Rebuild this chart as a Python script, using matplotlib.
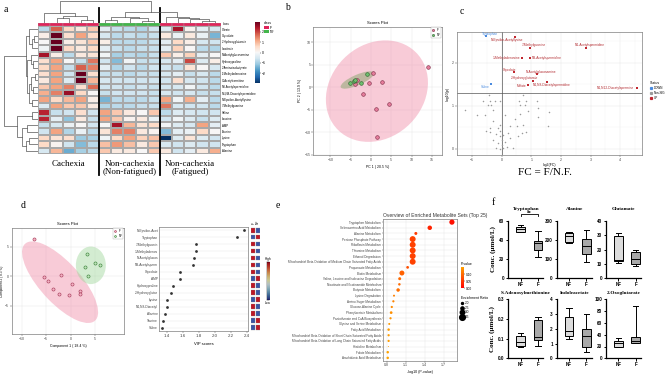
import numpy as np
import matplotlib
matplotlib.use("Agg")
import matplotlib.pyplot as plt
from matplotlib.patches import Ellipse, Patch
from matplotlib.colors import LinearSegmentedColormap, Normalize
from matplotlib.lines import Line2D

plt.rcParams['font.family'] = ['Liberation Sans', 'DejaVu Sans']
SERIF = ['Liberation Serif', 'DejaVu Serif']

# ---------------- a: heatmap ----------------
heat_rows = ["Citrate", "Glycolate", "2-Hydroxyglutarate", "Isocitrate",
             "N-Acetylglucosamine", "Hydroxyproline", "2-Aminoisobutyrate",
             "1-Methyladenosine", "O-Acetylcarnitine", "N8-Acetylspermidine",
             "N1,N8-Diacetylspermidine", "N-Epsilon-Acetyllysine", "7-Methylguanine",
             "Valine", "Leucine", "AMP", "Taurine", "Lysine", "Tryptophan", "Alanine"]
heat_vals = np.array([
    [-0.8, 1.8, 0.6, 0.3, 0.8,   -0.3, -0.7, -0.8, -0.9, -0.6,   -0.4, 2.5, 0.1, -0.3, -0.5],
    [0.2, 3.0, 0.5, 1.2, 0.6,    -0.5, -0.8, -0.7, -0.8, -0.7,   0.3, -0.2, 0.3, -0.2, -1.4],
    [0.0, 3.0, 0.2, 0.4, 0.8,    0.2, -0.8, -0.8, -0.8, -0.7,    -0.3, 0.6, 0.2, -0.5, -0.6],
    [-0.1, 3.0, 0.6, 0.3, 0.6,   -0.3, -0.7, -0.8, -0.7, -0.7,   -0.3, 0.7, 0.0, -0.8, -0.9],
    [2.5, 0.2, -0.8, 0.3, 0.4,   -0.1, -1.0, -0.8, -0.9, -0.7,   0.8, 0.2, 0.7, -0.3, 0.0],
    [0.5, 1.2, 0.0, -0.7, 1.6,   -0.6, -1.3, -0.1, -0.7, -0.7,   -0.5, -0.3, 2.0, -0.4, 0.2],
    [0.6, 1.2, -0.7, 1.8, 1.5,   -0.3, -0.9, -0.6, -0.8, -0.6,   -0.6, -0.7, 0.4, 0.0, -0.5],
    [0.5, 1.2, -0.6, 3.0, 0.5,   -0.7, -0.7, -0.8, -0.7, -0.7,   -0.5, -0.3, -0.7, -0.5, -0.8],
    [0.3, 1.2, -0.4, 3.0, 1.0,   -0.5, -0.6, -0.6, -0.6, -0.6,   -0.6, 0.5, -0.5, -0.6, -0.8],
    [0.8, 1.2, 1.5, 0.5, 1.7,    -0.6, -0.6, -0.7, -0.6, -0.7,   -0.6, -0.5, -0.1, -0.6, -0.8],
    [1.1, 1.5, 2.6, 0.6, 0.0,    -0.7, -0.6, -0.6, -0.6, -0.7,   -0.5, -0.6, -0.5, -0.7, -0.7],
    [1.2, 0.6, 1.0, 1.2, 0.2,    -1.4, -0.8, -0.8, -0.8, -0.7,   1.2, -0.1, 1.1, -0.3, -0.8],
    [-0.4, 1.2, 0.8, 0.8, 0.3,   -0.9, -0.8, -0.8, -0.7, -0.7,   1.6, -0.5, -0.6, -0.6, -0.8],
    [2.3, -0.7, -0.6, 0.5, -0.6, 1.2, 0.8, 0.3, 0.0, 0.8,        -0.8, -0.4, -0.5, -0.6, -0.6],
    [2.3, -0.3, -1.2, 0.3, -0.7, 1.2, 0.8, 0.1, 0.3, -0.2,       -0.6, -0.1, -0.4, -0.7, -0.4],
    [-0.7, -0.5, -0.2, 0.0, -0.6, 0.0, 2.5, 1.0, 0.4, 0.6,       -0.1, -0.4, -0.5, 1.2, -0.3],
    [-0.6, 1.2, -0.9, -0.2, -0.8, 0.4, 1.5, 1.5, 0.3, 0.1,       -1.3, -0.3, -0.2, 0.6, 0.0],
    [0.6, 0.4, 0.5, -1.1, -1.0,  -0.1, 0.6, 1.2, 0.7, 0.9,       -3.0, -0.4, 0.4, -0.4, -0.6],
    [0.6, 0.1, -0.6, -1.3, -0.8, 0.9, 1.3, 0.9, 0.3, 0.8,        -0.5, -0.6, -0.4, -0.6, -0.6],
    [-0.5, 1.0, -1.5, -1.0, -0.8, 0.8, 0.3, 0.3, 0.0, 0.8,       0.3, -0.6, -0.3, 0.3, 1.1],
])
heat_class = ["F"] * 5 + ["NF"] * 5 + ["F"] * 5
group_names = ["Cachexia", "Non-cachexia\n(Non-fatigued)", "Non-cachexia\n(Fatigued)"]
group_sizes = [5, 5, 5]
# linkage-style merges: (left, right, height)
col_merges = [(3, 4, 0.12), (1, 2, 0.2), (16, 15, 0.3), (0, 17, 0.45),
              (5, 6, 0.12), (8, 9, 0.1), (7, 20, 0.2), (19, 21, 0.28),
              (13, 14, 0.1), (12, 23, 0.18), (11, 24, 0.22), (10, 25, 0.28),
              (22, 26, 0.48), (18, 27, 1.0)]
row_merges = [(1, 2, 0.1), (3, 20, 0.15), (0, 21, 0.25), (5, 6, 0.12), (4, 23, 0.2),
              (7, 8, 0.08), (9, 10, 0.12), (25, 26, 0.18), (11, 12, 0.15), (27, 28, 0.24),
              (24, 29, 0.3), (22, 30, 0.34), (13, 14, 0.15), (15, 16, 0.3), (17, 18, 0.25),
              (34, 19, 0.35), (33, 35, 0.45), (32, 36, 0.62), (31, 37, 1.0)]

# ---------------- b: PCA scores ----------------
pca_f_x = [0.6, 2.8, -0.6, -3.5, -3.9, -1.9, 1.2, 4.4, 1.6, 14.0]
pca_f_y = [3.2, 1.2, 1.0, 1.6, 0.7, -1.6, -4.8, -3.8, -11.1, 4.5]
pca_nf_x = [-0.9, -5.2, -4.2, -4.0, -2.5]
pca_nf_y = [2.9, 1.0, 1.3, 1.6, 1.0]

# ---------------- c: volcano ----------------
up_names = ["N-Epsilon-Acetyllysine", "7-Methylguanine", "N1-Acetylspermidine",
            "1-Methyladenosine", "N8-Acetylspermidine", "Glycolate", "N-Acetylglucosamine",
            "2-Hydroxyglutarate", "N1,N8-Diacetylspermidine", "Malate", "N1,N12-Diacetylspermine"]
up_x = [0.47, 0.95, 2.83, 0.69, 0.95, 0.41, 1.19, 1.06, 1.54, 0.88, 4.56]
up_y = [2.59, 2.34, 2.34, 2.11, 2.11, 1.78, 1.74, 1.57, 1.55, 1.49, 1.41]
down_names = ["Tryptophan", "Valine"]
down_x = [-0.54, -0.35]
down_y = [2.61, 1.50]
ns_x = [-0.42, -0.62, -0.40, -0.23, -0.06, 0.73, 0.59, 0.82, 1.18, -0.45, -0.34, 0.62, 0.79,
        -1.24, -0.28, 1.24, 0.90, 1.60, -0.84, -0.56, 0.11, 0.62, -0.28, 0.45, 1.24, -0.06,
        0.73, 1.57, -0.40, -0.11, 0.28, 0.51, -0.51, -0.40, -0.06, 0.22, 0.68, 0.84, -0.17,
        0.05, 0.28, 0.56, -0.06, 0.0, 0.11, -0.28, -0.11, 0.0, 0.05, 0.17, 0.39, -0.06, -0.17]
ns_y = [1.26, 1.12, 1.12, 1.12, 1.12, 1.26, 1.12, 1.12, 1.12, 1.01, 1.01, 1.01, 1.01,
        0.89, 0.89, 0.95, 0.87, 0.85, 0.79, 0.79, 0.79, 0.81, 0.65, 0.70, 0.73, 0.56,
        0.56, 0.54, 0.48, 0.48, 0.52, 0.52, 0.42, 0.39, 0.42, 0.36, 0.36, 0.39, 0.34,
        0.33, 0.26, 0.29, 0.29, 0.21, 0.17, 0.21, 0.13, 0.09, 0.02, 0.05, 0.03, 0.0, 0.03]

# ---------------- d: PLS-DA + VIP ----------------
pls_f_x = [-7.49, -5.38, -4.56, -3.54, -2.04, -2.32, -0.28, 0.33, 1.97, 1.97]
pls_f_y = [6.22, -0.22, -0.85, -2.20, 0.11, -3.11, -3.28, -1.41, -2.49, -3.05]
pls_nf_x = [3.26, 4.96, 5.91, 2.98, 3.59]
pls_nf_y = [3.67, 2.15, 1.81, 1.47, 0.06]
vip_names = ["N-Epsilon-Acet", "Tryptophan", "7-Methylguanin", "1-Methyladenos",
             "N-Acetylglucos", "N8-Acetylsperm", "Glycolate", "AMP", "Hydroxyproline",
             "2-Hydroxyglutar", "Lysine", "N1,N8-Diacetyl", "Alanine", "Taurine", "Valine"]
vip_scores = [2.37, 2.28, 1.77, 1.76, 1.74, 1.73, 1.56, 1.56, 1.47, 1.45, 1.40, 1.40, 1.38, 1.35, 1.34]
vip_f_high = [1, 0, 1, 1, 1, 1, 1, 0, 1, 1, 0, 1, 1, 0, 0]

# ---------------- e: enrichment ----------------
set_names = ["Tryptophan Metabolism", "Selenoamino Acid Metabolism", "Alanine Metabolism",
             "Pentose Phosphate Pathway", "Riboflavin Metabolism", "Thiamine Metabolism",
             "Ethanol Degradation",
             "Mitochondrial Beta-Oxidation of Medium Chain Saturated Fatty Acids",
             "Propanoate Metabolism", "Biotin Metabolism",
             "Valine, Leucine and Isoleucine Degradation",
             "Nicotinate and Nicotinamide Metabolism", "Butyrate Metabolism",
             "Lysine Degradation", "Amino Sugar Metabolism", "Glucose-Alanine Cycle",
             "Phenylacetate Metabolism", "Pantothenate and CoA Biosynthesis",
             "Glycine and Serine Metabolism", "Fatty Acid Metabolism",
             "Mitochondrial Beta-Oxidation of Short Chain Saturated Fatty Acids",
             "Mitochondrial Beta-Oxidation of Long Chain Saturated Fatty Acids",
             "Histidine Metabolism", "Folate Metabolism", "Arachidonic Acid Metabolism"]
set_logp = [1.83, 1.48, 1.26, 1.21, 1.21, 1.21, 1.21, 1.21, 1.13, 1.04, 1.005, 1.0, 0.98,
            0.915, 0.905, 0.88, 0.87, 0.86, 0.84, 0.83, 0.83, 0.83, 0.826, 0.816, 0.816]
set_ratio = [3.3, 3.0, 2.4, 3.6, 3.6, 3.6, 3.6, 3.6, 2.3, 3.2, 2.4, 2.2, 2.6, 2.0, 2.1,
             2.1, 2.3, 2.1, 2.0, 2.2, 2.1, 2.1, 1.6, 2.2, 2.2]

# ---------------- f: box plots ----------------
f_names = ["Tryptophan", "Alanine", "Glutamate", "S-Adenosylmethionine", "Indoleacetate", "2-Oxoglutarate"]
# min, q1, median, q3, max
f_nf = [[47.9, 48.6, 51.0, 53.1, 56.0], [185.5, 190.7, 220.0, 234.0, 242.8],
        [10.9, 12.3, 12.7, 29.4, 31.2], [0.059, 0.064, 0.085, 0.114, 0.127],
        [1.29, 1.54, 1.83, 2.82, 3.39], [18.6, 19.8, 25.4, 29.9, 33.9]]
f_f = [[22.6, 29.5, 37.2, 38.9, 49.3], [83.0, 126.6, 168.0, 203.0, 251.0],
       [8.6, 9.9, 13.2, 18.0, 19.7], [0.063, 0.093, 0.110, 0.195, 0.208],
       [0.41, 0.79, 1.54, 1.97, 2.98], [25.4, 26.6, 29.9, 36.7, 88.7]]
f_ymax = [60, 300, 40, 0.3, 4, 100]
f_ystep = [20, 100, 10, 0.1, 1, 20]
f_groups = ["NF", "F"]

W, H = 669, 374
fig = plt.figure(figsize=(W / 100, H / 100), dpi=100)


def box(x0, y0, x1, y1):
    return fig.add_axes([x0 / W, 1 - y1 / H, (x1 - x0) / W, (y1 - y0) / H])


def letter(x, y, s):
    fig.text(x / W, 1 - y / H, s, fontsize=7, family=SERIF, va='center', ha='center')


def dendro(ax, merges, n, side):
    pos = {i: i + 0.5 for i in range(n)}
    hgt = {i: 0.0 for i in range(n)}
    for k, (a, b, h) in enumerate(merges):
        xs = [pos[a], pos[a], pos[b], pos[b]]
        ys = [hgt[a], h, h, hgt[b]]
        if side == "top":
            ax.plot(xs, ys, color='#555555', lw=0.5)
        else:
            ax.plot(ys, xs, color='#555555', lw=0.5)
        pos[n + k] = (pos[a] + pos[b]) / 2
        hgt[n + k] = h
    ax.axis('off')


def conf_ellipse(ax, x, y, color, alpha):
    x = np.asarray(x)
    y = np.asarray(y)
    vals, vecs = np.linalg.eigh(np.cov(x, y))
    order = vals.argsort()[::-1]
    vals, vecs = vals[order], vecs[:, order]
    ang = np.degrees(np.arctan2(vecs[1, 0], vecs[0, 0]))
    w, h = 2 * np.sqrt(vals * 5.991)
    ax.add_patch(Ellipse((x.mean(), y.mean()), w, h, angle=ang, fc=color, ec='none',
                         alpha=alpha, zorder=1))


def light_axes(ax, grid=True):
    for s in ax.spines.values():
        s.set_color('#7f7f7f')
        s.set_linewidth(0.5)
    ax.tick_params(labelsize=2.5, length=1.2, width=0.3, pad=0.8, colors='#444444')
    if grid:
        ax.grid(True, color='#e3e3e3', lw=0.3)
        ax.set_axisbelow(True)


# ---------------- panel a ----------------
n_rows, n_cols = heat_vals.shape
ax = box(38.3, 26, 220.7, 154)
mesh = ax.pcolormesh(heat_vals, cmap='RdBu_r', vmin=-3, vmax=3, edgecolors='#a8a8a8', linewidth=0.25)
ax.set_xlim(0, n_cols)
ax.set_ylim(n_rows, 0)
ax.set_xticks([])
ax.yaxis.tick_right()
ax.set_yticks(np.arange(n_rows) + 0.5, heat_rows, fontsize=2.1)
ax.tick_params(axis='y', length=0, pad=1)
for s in ax.spines.values():
    s.set_visible(False)
edges = np.cumsum(group_sizes)
for e in edges[:-1]:
    ax.axvline(e, ymin=-0.164, ymax=1.138, color='black', lw=1.3, clip_on=False)
starts = edges - np.array(group_sizes)
for name, s0, e in zip(group_names, starts, edges):
    ax.text((s0 + e) / 2, -0.05, name, transform=ax.get_xaxis_transform(), ha='center',
            va='top', fontsize=6.5, family=SERIF, linespacing=1.0)

class_colors = {"F": "#E0245A", "NF": "#42B64A"}
axc = box(38.3, 22.7, 220.7, 26)
axc.bar(np.arange(n_cols) + 0.5, 1, width=1, color=[class_colors[c] for c in heat_class],
        edgecolor='#a8a8a8', linewidth=0.25)
axc.set_xlim(0, n_cols)
axc.set_ylim(0, 1)
axc.axis('off')
axc.text(1.01, 0.5, "class", transform=axc.transAxes, fontsize=2.1, va='center')

axd = box(38.3, 0.5, 220.7, 22.7)
dendro(axd, col_merges, n_cols, "top")
axd.set_xlim(0, n_cols)
axd.set_ylim(0, 1.02)

axr = box(3, 26, 37.5, 154)
dendro(axr, row_merges, n_rows, "left")
axr.set_ylim(n_rows, 0)
axr.set_xlim(1.02, 0)

cax = box(255, 21.7, 260, 83.3)
cb = fig.colorbar(mesh, cax=cax, ticks=[-2, -1, 0, 1, 2])
cb.ax.tick_params(labelsize=2.5, length=1, width=0.3, pad=0.5)
cb.outline.set_visible(False)
fig.legend([Patch(fc=class_colors[k]) for k in ["F", "NF"]], ["F", "NF"], title="class",
           loc='upper left', bbox_to_anchor=(264 / W, 1 - 21 / H), fontsize=2.5,
           title_fontsize=2.5, frameon=False, handlelength=1.4, handleheight=1.0,
           borderaxespad=0, borderpad=0, labelspacing=0.15, alignment='left', handletextpad=0.4)
letter(6, 10, "a")

# ---------------- panel b ----------------
ax = box(313.3, 26.7, 442, 155)
conf_ellipse(ax, pca_f_x, pca_f_y, '#F08CA8', 0.45)
conf_ellipse(ax, pca_nf_x, pca_nf_y, '#8FA874', 0.55)
ax.scatter(pca_f_x, pca_f_y, s=7, c='#E57C9A', edgecolors='#7a2a45', lw=0.4, zorder=3, label='F')
ax.scatter(pca_nf_x, pca_nf_y, s=7, c='#6DBE6D', edgecolors='#2a5e2a', lw=0.4, zorder=3, label='NF')
ax.set_xlim(-14.2, 17.5)
ax.set_ylim(-15.1, 13.4)
ax.set_xticks([-10, -5, 0, 5, 10, 15])
ax.set_yticks([-15, -10, -5, 0, 5, 10])
light_axes(ax)
ax.set_title("Scores Plot", fontsize=3, pad=2)
ax.set_xlabel("PC 1 ( 20.5 %)", fontsize=2.5, labelpad=2)
ax.set_ylabel("PC 2 ( 13.9 %)", fontsize=2.5, labelpad=2)
ax.legend(loc='upper right', fontsize=2.2, frameon=True, handlelength=0.8, borderpad=0.3,
          labelspacing=0.2, fancybox=False, edgecolor='#999999', markerscale=0.6,
          borderaxespad=0.2).get_frame().set_linewidth(0.3)
letter(287, 7, "b")

# ---------------- panel c ----------------
ax = box(457, 32.3, 642, 155)
ax.scatter(ns_x, ns_y, s=1.2, c='#9a9a9a', lw=0, zorder=3)
ax.scatter(up_x, up_y, s=2.2, c='#C0262E', marker='s', lw=0, zorder=3)
ax.scatter(down_x, down_y, s=2.2, c='#4A8BDF', marker='s', lw=0, zorder=3)
ax.axhline(-np.log10(0.05), color='#555555', lw=0.5)
ax.axvline(0, color='#555555', lw=0.5)
label_style = {  # offset in points, horizontal alignment
    "Tryptophan": (3, 1.5, 'center'), "Valine": (-4, -1.8, 'center'),
    "N-Epsilon-Acetyllysine": (-6, -2.2, 'center'), "7-Methylguanine": (3, 2.2, 'center'),
    "N1-Acetylspermidine": (3, 2.2, 'center'), "1-Methyladenosine": (-1.5, 0, 'right'),
    "N8-Acetylspermidine": (1.5, -0.5, 'left'), "Glycolate": (-3, 1.7, 'center'),
    "N-Acetylglucosamine": (3, 1.5, 'center'), "2-Hydroxyglutarate": (-6, 2, 'center'),
    "N1,N8-Diacetylspermidine": (3, -2, 'center'), "Malate": (-4.5, -1.3, 'center'),
    "N1,N12-Diacetylspermine": (-2, 0, 'right')}
for names, xs, ys, col in [(up_names, up_x, up_y, '#B22A2F'), (down_names, down_x, down_y, '#4A8BDF')]:
    for nm, x, y in zip(names, xs, ys):
        dx, dy, ha = label_style[nm]
        ax.annotate(nm, (x, y), xytext=(dx, dy), textcoords='offset points', ha=ha,
                    va='center', fontsize=2.3, color=col)
ax.set_xlim(-1.5, 4.73)
ax.set_ylim(-0.14, 2.7)
ax.set_xticks([-1, 0, 1, 2, 3, 4])
ax.set_yticks([0, 1, 2])
ax.set_xticks(np.arange(-1.5, 4.7, 0.5), minor=True)
ax.set_yticks([0.5, 1.5, 2.5], minor=True)
light_axes(ax)
ax.grid(True, which='minor', color='#f0f0f0', lw=0.25)
ax.tick_params(which='minor', length=0)
ax.set_xlabel("log2(FC)", fontsize=2.5, labelpad=0.8)
ax.set_ylabel("-log10(p)", fontsize=2.5, labelpad=2)
status_h = [Line2D([], [], ls='', marker='s', ms=1.3, color=c) for c in ['#4A8BDF', '#9a9a9a', '#C0262E']]
fig.legend(status_h, ["DOWN", "Non-SIG", "UP"], title="Status", loc='upper left',
           bbox_to_anchor=(648 / W, 1 - 79 / H), fontsize=2.2, title_fontsize=2.5,
           frameon=False, handlelength=0.8, borderpad=0, labelspacing=0.4, alignment='left',
           handletextpad=0.5)
letter(462, 11, "c")
fig.text(545 / W, 1 - 172.5 / H, "FC = F/N.F.", fontsize=8, family=SERIF, ha='center', va='center')

# ---------------- panel d ----------------
ax = box(11.7, 227.7, 124, 334)
conf_ellipse(ax, pls_f_x, pls_f_y, '#F08CA8', 0.45)
conf_ellipse(ax, pls_nf_x, pls_nf_y, '#9ED69A', 0.45)
ax.scatter(pls_f_x, pls_f_y, s=5, c='#F3B3C4', edgecolors='#a0304f', lw=0.4, zorder=3, label='F')
ax.scatter(pls_nf_x, pls_nf_y, s=5, c='#BFE3BA', edgecolors='#2f7a2f', lw=0.4, zorder=3, label='NF')
ax.set_xlim(-12.0, 10.9)
ax.set_ylim(-9.8, 8.2)
ax.set_xticks([-10, -5, 0, 5])
ax.set_yticks([-5, 0, 5])
light_axes(ax)
ax.set_title("Scores Plot", fontsize=3, pad=2)
ax.set_xlabel("Component 1 ( 18.4 %)", fontsize=2.5, labelpad=2)
ax.set_ylabel("Component 2 ( 8.3 %)", fontsize=2.3, labelpad=0.8)
ax.legend(loc='upper right', fontsize=2.2, frameon=True, handlelength=0.8, borderpad=0.3,
          labelspacing=0.2, fancybox=False, edgecolor='#999999', markerscale=0.6,
          borderaxespad=0.2).get_frame().set_linewidth(0.3)
letter(23, 205, "d")

n_vip = len(vip_names)
ax = box(159, 226.7, 248.3, 331)
ax.scatter(vip_scores, np.arange(n_vip), s=4, c='#333333', lw=0, zorder=3)
for i in range(n_vip):
    ax.axhline(i, color='#bdbdbd', lw=0.3, ls=(0, (1, 1.5)), zorder=1)
ax.set_ylim(n_vip - 0.5, -0.5)
ax.set_xlim(1.30, 2.42)
ax.set_yticks(np.arange(n_vip), vip_names)
ax.set_xticks([1.4, 1.6, 1.8, 2.0, 2.2, 2.4])
light_axes(ax, grid=False)
ax.tick_params(axis='x', labelsize=3.2)
ax.tick_params(axis='y', length=0, labelsize=2.3)
ax.set_xlabel("VIP scores", fontsize=3, labelpad=3)

mini_cmap = plt.get_cmap('RdYlBu_r')
axm = box(251.2, 226.7, 260.2, 331)
for j, vals in enumerate([vip_f_high, [1 - v for v in vip_f_high]]):
    axm.barh(np.arange(n_vip), 0.9, left=j + 0.05, height=0.68,
             color=[mini_cmap(0.95 if v else 0.05) for v in vals], edgecolor='#888888', lw=0.2)
axm.set_ylim(n_vip - 0.5, -0.5)
axm.set_xlim(0, 2)
axm.axis('off')
for j, g in enumerate(["F", "NF"]):
    axm.text(j + 0.5, -0.9, g, rotation=90, fontsize=2.3, ha='center', va='bottom')
axh = box(266.5, 261.7, 269, 300)
axh.imshow(np.linspace(1, 0, 100)[:, None], cmap=mini_cmap, aspect='auto')
axh.set_xticks([])
axh.set_yticks([])
for s in axh.spines.values():
    s.set_linewidth(0.3)
axh.text(0.5, 1.03, "High", transform=axh.transAxes, fontsize=2.3, ha='center', va='bottom')
axh.text(0.5, -0.03, "Low", transform=axh.transAxes, fontsize=2.3, ha='center', va='top')

# ---------------- panel e ----------------
n_sets = len(set_names)
pvals = 10 ** -np.array(set_logp)
p_cmap = LinearSegmentedColormap.from_list("pv", ["#FF0000", "#FFA200"])
p_norm = Normalize(0, pvals.max())
ax = box(383.3, 219.3, 457.3, 360.7)
sc = ax.scatter(set_logp, np.arange(n_sets), s=(np.array(set_ratio) - 1.2) ** 2 * 3.2,
                c=pvals, cmap=p_cmap, norm=p_norm, lw=0, zorder=3)
ax.set_ylim(n_sets - 0.5, -0.5)
ax.set_xlim(0.746, 1.915)
ax.set_xticks([0.8, 1.1, 1.4, 1.7])
ax.set_yticks(np.arange(n_sets), set_names)
light_axes(ax)
ax.tick_params(axis='y', labelsize=2.2, length=0.8)
ax.set_title("Overview of Enriched Metabolite Sets (Top 25)", fontsize=3.6, loc='left', pad=2,
             color='#333333')
ax.set_xlabel("-log10 (P-value)", fontsize=2.6, labelpad=1.5)
cax = box(460.7, 266.7, 464.3, 288.3)
cb = fig.colorbar(sc, cax=cax, ticks=[0.0, 0.05, 0.10])
cb.ax.set_yticklabels(["0.00", "0.05", "0.10"])
cb.ax.tick_params(labelsize=2.3, length=0.8, width=0.3, pad=0.5)
cb.outline.set_visible(False)
cax.set_title("P-value", fontsize=2.5, loc='left', pad=1.5)
size_lv = [2.0, 2.5, 3.0, 3.5]
size_h = [Line2D([], [], ls='', marker='o', color='black', ms=np.sqrt((v - 1.2) ** 2 * 3.2))
          for v in size_lv]
fig.legend(size_h, [f"{v:.1f}" for v in size_lv], title="Enrichment Ratio", loc='upper left',
           bbox_to_anchor=(459.5 / W, 1 - 294.5 / H), fontsize=2.3, title_fontsize=2.5,
           frameon=False, handlelength=0.8, borderpad=0, labelspacing=0.25, alignment='left',
           handletextpad=0.5)
letter(278, 205, "e")

# ---------------- panel f ----------------
f_cols = [508.3, 556.7, 606]
f_rows = [(220.7, 278.3), (299.3, 358.3)]
f_title_pad = [7.8, 4.0]
for i, name in enumerate(f_names):
    x0 = f_cols[i % 3]
    y0, y1 = f_rows[i // 3]
    ax = box(x0, y0, x0 + 35, y1)
    stats = [dict(whislo=s[0], q1=s[1], med=s[2], q3=s[3], whishi=s[4], fliers=[])
             for s in (f_nf[i], f_f[i])]
    bp = ax.bxp(stats, positions=[1, 2], widths=0.5, patch_artist=True, showfliers=False,
                capwidths=0.3, boxprops=dict(lw=0.7), whiskerprops=dict(lw=0.7),
                capprops=dict(lw=0.7), medianprops=dict(color='black', lw=0.7))
    for patch, col in zip(bp['boxes'], ['#DCDCDC', '#A9A9A9']):
        patch.set_facecolor(col)
    ax.set_xlim(0.3, 2.3)
    ax.set_ylim(0, f_ymax[i])
    ticks = np.arange(0, f_ymax[i] + f_ystep[i] / 2, f_ystep[i])
    ax.set_yticks(ticks, [f"{t:.1f}" if f_ystep[i] < 1 else f"{t:.0f}" for t in ticks])
    ax.set_xticks([1, 2], f_groups)
    for s in ['top', 'right']:
        ax.spines[s].set_visible(False)
    for s in ['left', 'bottom']:
        ax.spines[s].set_linewidth(0.9)
    ax.tick_params(labelsize=3.3, length=1.8, width=0.7, pad=1)
    for t in ax.get_xticklabels() + ax.get_yticklabels():
        t.set_fontweight('bold')
    ax.set_title(name, fontsize=3.7, family=SERIF, fontweight='bold', pad=f_title_pad[i // 3])
    if i % 3 == 0:
        ax.set_ylabel("Conc. (μmol/L)", fontsize=5, family=SERIF, fontweight='bold', labelpad=2)
    if i == 0:
        top = max(f_nf[i][4], f_f[i][4]) * 1.2
        ax.plot([1, 1, 2, 2], [top * 0.97, top, top, top * 0.97], color='black', lw=0.6, clip_on=False)
        ax.text(1.5, top, "**", ha='center', va='center', fontsize=4.3, fontweight='bold')
letter(493, 203, "f")

fig.savefig("out.png", dpi=100)
